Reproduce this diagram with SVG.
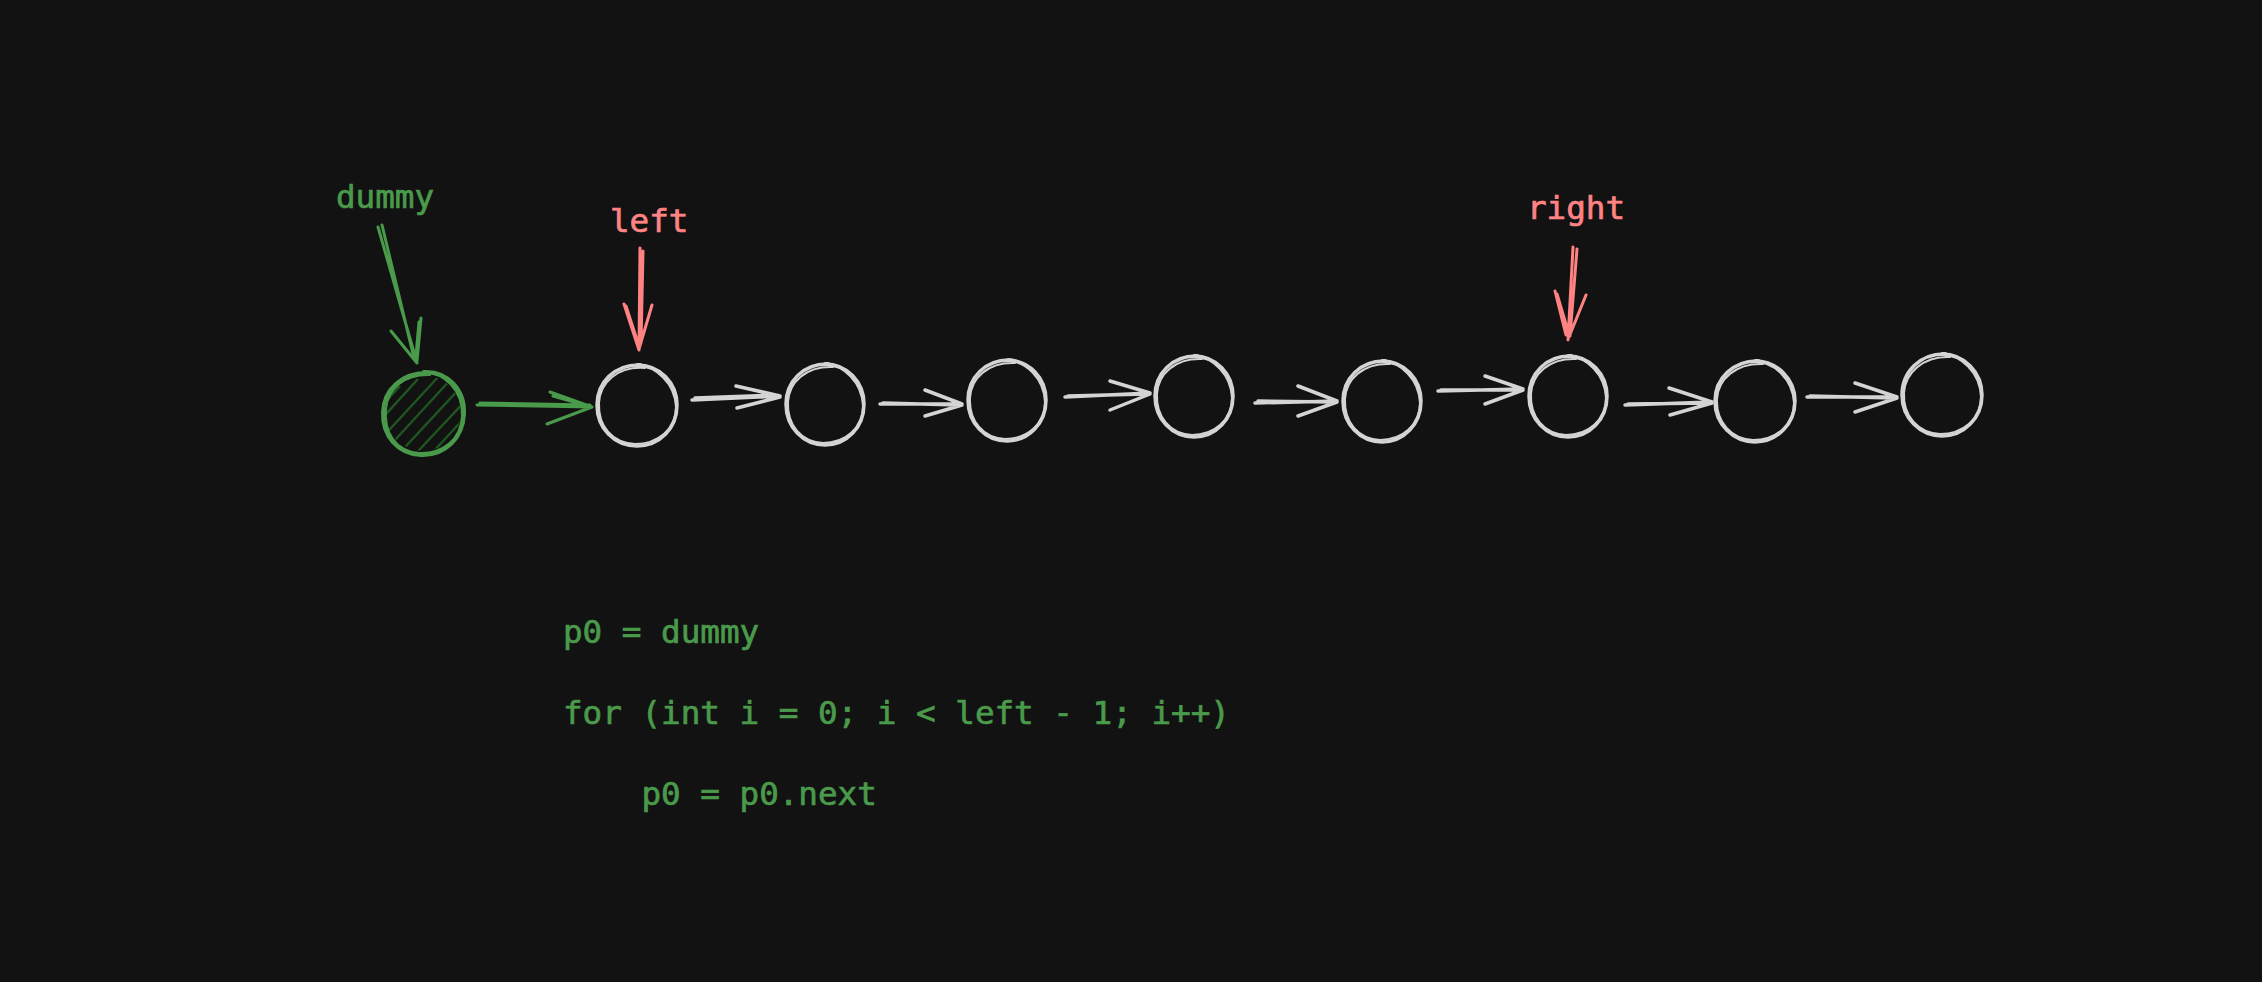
<svg xmlns="http://www.w3.org/2000/svg" width="2262" height="982" viewBox="0 0 2262 982">
<defs>
<style>
.bg{fill:#121212}
.node{fill:none;stroke:#d4d4d4;stroke-width:3.5;stroke-linecap:round}
.node2{fill:none;stroke:#d4d4d4;stroke-width:2;stroke-linecap:round}
.gnode{fill:none;stroke:#4a9a4b;stroke-width:4;stroke-linecap:round}
.gnode2{fill:none;stroke:#4a9a4b;stroke-width:2;stroke-linecap:round}
.w{fill:none;stroke:#d4d4d4;stroke-width:3.5;stroke-linecap:round;stroke-linejoin:round}
.g{fill:none;stroke:#4a9a4b;stroke-width:3;stroke-linecap:round;stroke-linejoin:round}
.r{fill:none;stroke:#ff8383;stroke-width:3;stroke-linecap:round;stroke-linejoin:round}
.hatch{stroke:#1e5520;stroke-width:2.4}
.lbl{font-family:"DejaVu Sans Mono","Liberation Mono",monospace;font-size:32.6px;stroke-width:0.7px}
.green{fill:#4a9a4b;stroke:#4a9a4b}
.red{fill:#ff8383;stroke:#ff8383}
</style>
<clipPath id="gclip"><circle cx="423" cy="413" r="38"/></clipPath>
</defs>
<rect class="bg" x="0" y="0" width="2262" height="982"/>

<g id="connectors">
  <path class="g" d="M378,227 L417,363 M382,225 L414,358 M391,331 L417,363 M421,318 L417,361 M419,322 L416,356"/>
  <path class="r" d="M640,248 L639,350 M643,251 L641,343 M624,304 L639,350 M652,305 L639,349 M626,306 L637,340"/>
  <path class="r" d="M1573,247 L1568,340 M1577,249 L1570,336 M1555,291 L1566,335 M1586,295 L1569,337 M1557,294 L1568,331"/>
  <path class="g" d="M477,405 L592,407 M480,403 L590,405 M550,392 L592,407 M547,424 L592,407 M553,396 L588,406"/>
  <path class="w" d="M692,400 L780,396 M695,398 L776,395 M736,386 L780,396 M737,408 L780,397"/>
  <path class="w" d="M880,404 L962,404 M883,403 L959,405 M925,390 L962,404 M925,416 L962,405"/>
  <path class="w" d="M1065,397 L1150,393 M1068,396 L1146,394 M1110,381 L1150,393 M1110,410 L1150,394"/>
  <path class="w" d="M1255,403 L1337,401 M1258,401 L1334,402 M1298,386 L1337,401 M1298,416 L1337,402"/>
  <path class="w" d="M1438,391 L1523,389 M1441,390 L1520,390 M1485,376 L1523,389 M1485,404 L1523,390"/>
  <path class="w" d="M1625,405 L1712,402 M1628,404 L1709,403 M1669,388 L1712,402 M1670,415 L1712,403"/>
  <path class="w" d="M1807,397 L1897,397 M1810,396 L1894,398 M1855,383 L1897,397 M1855,412 L1897,398"/>
</g>

<g id="node-dummy">
  <g clip-path="url(#gclip)">
    <path class="hatch" d="M380,440 L440,375 M384,452 L452,378 M393,460 L462,386 M405,465 L468,398 M420,466 L470,412 M432,466 L470,425 M376,425 L418,379 M378,410 L400,386"/>
  </g>
  <path class="gnode" d="M424,372 C448,371 465,390 464,414 C463,438 445,456 421,455 C398,454 382,436 383,412 C384,389 402,373 426,373"/>
  <path class="gnode2" d="M419,373 C445,370 463,392 462,416 C461,440 442,454 419,453 C395,451 384,432 386,409 C388,388 405,374 430,375"/>
  <text class="lbl green" x="336" y="208">dummy</text>
</g>

<g id="node-1">
  <path class="node" d="M637,365 C660,365 677,383 677,405 C677,428 660,446 637,446 C614,446 597,428 597,405 C597,383 614,364 641,365"/>
  <path class="node2" d="M633,366 C657,364 675,385 676,407 C676,429 658,444 635,444 C612,443 598,426 599,403 C600,383 617,366 645,368"/>
  <text class="lbl red" x="610" y="232">left</text>
</g>

<g id="node-2">
  <path class="node" d="M825,364 C847,364 864,382 864,404 C864,427 847,445 825,445 C803,445 786,427 786,404 C786,382 803,363 829,364"/>
  <path class="node2" d="M821,365 C845,363 862,384 863,406 C863,428 845,443 823,443 C801,442 787,425 788,402 C789,382 806,366 833,367"/>
</g>

<g id="node-3">
  <path class="node" d="M1007,360 C1029,360 1046,378 1046,400 C1046,423 1029,441 1007,441 C985,441 968,423 968,400 C968,378 985,359 1011,360"/>
  <path class="node2" d="M1003,361 C1027,359 1044,380 1045,402 C1045,424 1027,439 1005,439 C983,438 969,421 970,398 C971,378 988,362 1015,363"/>
</g>

<g id="node-4">
  <path class="node" d="M1194,356 C1216,356 1233,374 1233,396 C1233,419 1216,437 1194,437 C1172,437 1155,419 1155,396 C1155,374 1172,355 1198,356"/>
  <path class="node2" d="M1190,357 C1214,355 1231,376 1232,398 C1232,420 1214,435 1192,435 C1170,434 1156,417 1157,394 C1158,374 1175,358 1202,359"/>
</g>

<g id="node-5">
  <path class="node" d="M1382,361 C1404,361 1421,379 1421,401 C1421,424 1404,442 1382,442 C1360,442 1343,424 1343,401 C1343,379 1360,360 1386,361"/>
  <path class="node2" d="M1378,362 C1402,360 1419,381 1420,403 C1420,425 1402,440 1380,440 C1358,439 1344,422 1345,399 C1346,379 1363,363 1390,364"/>
</g>

<g id="node-6">
  <path class="node" d="M1568,356 C1590,356 1607,374 1607,396 C1607,419 1590,437 1568,437 C1546,437 1529,419 1529,396 C1529,374 1546,355 1572,356"/>
  <path class="node2" d="M1564,357 C1588,355 1605,376 1606,398 C1606,420 1588,435 1566,435 C1544,434 1530,417 1531,394 C1532,374 1549,358 1576,359"/>
  <text class="lbl red" x="1527" y="219">right</text>
</g>

<g id="node-7">
  <path class="node" d="M1755,361 C1777,361 1795,379 1795,401 C1795,424 1777,442 1755,442 C1733,442 1715,424 1715,401 C1715,379 1733,360 1759,361"/>
  <path class="node2" d="M1751,362 C1775,360 1793,381 1794,403 C1794,425 1776,440 1753,440 C1731,439 1716,422 1717,399 C1718,379 1736,363 1763,364"/>
</g>

<g id="node-8">
  <path class="node" d="M1942,354 C1964,354 1982,372 1982,395 C1982,418 1964,436 1942,436 C1920,436 1902,418 1902,395 C1902,372 1920,353 1946,354"/>
  <path class="node2" d="M1938,355 C1962,353 1980,374 1981,397 C1981,419 1963,434 1940,434 C1918,433 1903,416 1904,393 C1905,373 1923,356 1950,357"/>
</g>

<g id="code">
  <text class="lbl green" x="563" y="643">p0 = dummy</text>
  <text class="lbl green" x="563" y="724">for (int i = 0; i &lt; left - 1; i++)</text>
  <text class="lbl green" x="563" y="805" xml:space="preserve">    p0 = p0.next</text>
</g>
</svg>
